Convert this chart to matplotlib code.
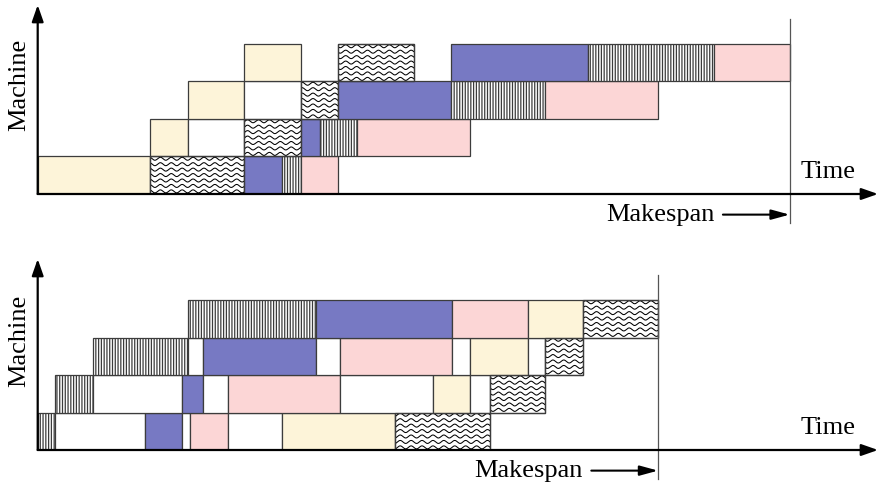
import numpy as np
import matplotlib
matplotlib.use("Agg")
import matplotlib.pyplot as plt

plt.rcParams['font.family'] = ['Liberation Serif', 'DejaVu Serif']
plt.rcParams['hatch.linewidth'] = 0.9

# ------------------------
# Data (time units, machine rows)
# ------------------------
# Top schedule
top_row   = [0, 0, 0, 0, 0,
             1, 1, 1, 1, 1, 1,
             2, 2, 2, 2, 2, 2,
             3, 3, 3, 3, 3]
top_start = [0, 6, 11, 13, 14,
             6, 8, 11, 14, 15, 17,
             8, 11, 14, 16, 22, 27,
             11, 16, 22, 29.25, 36]
top_end   = [6, 11, 13, 14, 16,
             8, 11, 14, 15, 17, 23,
             11, 14, 16, 22, 27, 33,
             14, 20, 29.25, 36, 40]
top_kind  = ['yellow', 'wave', 'blue', 'vline', 'pink',
             'yellow', 'idle', 'wave', 'blue', 'vline', 'pink',
             'yellow', 'idle', 'wave', 'blue', 'vline', 'pink',
             'yellow', 'wave', 'blue', 'vline', 'pink']
top_makespan = 40

# Bottom schedule
bot_row   = [0, 0, 0, 0, 0, 0, 0, 0,
             1, 1, 1, 1, 1, 1, 1, 1, 1,
             2, 2, 2, 2, 2, 2, 2, 2, 2,
             3, 3, 3, 3, 3]
bot_start = [0, 0.9, 5.7, 7.7, 8.1, 10.1, 13, 19,
             0.9, 2.95, 7.7, 8.8, 10.1, 16.1, 21.05, 23, 24.05,
             2.95, 8, 8.8, 14.8, 16.1, 22.05, 23, 26.1, 27,
             8, 14.8, 22.05, 26.1, 29]
bot_end   = [0.9, 5.7, 7.7, 8.1, 10.1, 13, 19, 24.05,
             2.95, 7.7, 8.8, 10.1, 16.1, 21.05, 23, 24.05, 27,
             8, 8.8, 14.8, 16.1, 22.05, 23, 26.1, 27, 29,
             14.8, 22.05, 26.1, 29, 33]
bot_kind  = ['vline', 'idle', 'blue', 'idle', 'pink', 'idle', 'yellow', 'wave',
             'vline', 'idle', 'blue', 'idle', 'pink', 'idle', 'yellow', 'idle', 'wave',
             'vline', 'idle', 'blue', 'idle', 'pink', 'idle', 'yellow', 'idle', 'wave',
             'vline', 'blue', 'pink', 'yellow', 'wave']
bot_makespan = 33

COLORS = {'yellow': '#FDF4D9', 'pink': '#FCD6D6', 'blue': '#7779C3',
          'vline': 'white', 'wave': 'white', 'idle': 'white'}
EDGE = '#3c3c3c'

X_MAX = 44.7


def draw_waves(ax, patch, x0, x1, y0):
    # wavy horizontal lines clipped to the box
    xs = np.linspace(x0, x1, 400)
    for k in range(7):
        ys = y0 + 0.07 + k * 0.145 + 0.04 * np.sin(2 * np.pi * xs / 0.58)
        ln, = ax.plot(xs, ys, color='black', lw=0.75, zorder=3,
                      solid_joinstyle='round', antialiased=True)
        ln.set_clip_path(patch)


def draw_panel(ax, rows, starts, ends, kinds, makespan, y_max):
    for r, s, e, k in zip(rows, starts, ends, kinds):
        bars = ax.barh(r + 0.5, e - s, left=s, height=1, color=COLORS[k],
                       edgecolor=EDGE, linewidth=0.9,
                       hatch='||||||' if k == 'vline' else None, zorder=2)
        if k == 'wave':
            draw_waves(ax, bars[0], s, e, r)
            # redraw border on top
            ax.barh(r + 0.5, e - s, left=s, height=1, fill=False,
                    edgecolor=EDGE, linewidth=0.9, zorder=4)

    ax.set_xlim(0, X_MAX)
    ax.set_ylim(0, y_max)
    ax.axis('off')

    # axes arrows
    ax.annotate('', xy=(1, 0), xytext=(0, 0), xycoords='axes fraction',
                arrowprops=dict(arrowstyle='-|>,head_length=1.0,head_width=0.35',
                                lw=1.6, color='black', shrinkA=0, shrinkB=0), zorder=6)
    ax.annotate('', xy=(0, 1), xytext=(0, 0), xycoords='axes fraction',
                arrowprops=dict(arrowstyle='-|>,head_length=1.0,head_width=0.35',
                                lw=1.6, color='black', shrinkA=0, shrinkB=0), zorder=6)

    # makespan marker
    ax.plot([makespan, makespan], [-0.78, 4.67], color='#555555', lw=0.9,
            clip_on=False, zorder=5)
    ax.annotate('', xy=(makespan, -0.55), xytext=(makespan - 3.55, -0.55),
                arrowprops=dict(arrowstyle='-|>,head_length=1.1,head_width=0.3',
                                lw=1.5, color='black', shrinkA=0, shrinkB=0),
                annotation_clip=False)
    ax.text(makespan - 4.0, -0.55, 'Makespan', ha='right', va='center',
            fontsize=19, clip_on=False)
    ax.text(40.6, 0.6, 'Time', ha='left', va='center', fontsize=19)


fig = plt.figure(figsize=(8.8, 4.9), dpi=100)

ax_top = fig.add_axes([37.7 / 880, 296 / 490, 840.3 / 880, 189 / 490])
draw_panel(ax_top, top_row, top_start, top_end, top_kind, top_makespan, 189 / 37.5)

ax_bot = fig.add_axes([37.7 / 880, 40 / 490, 840.3 / 880, 191 / 490])
draw_panel(ax_bot, bot_row, bot_start, bot_end, bot_kind, bot_makespan, 191 / 37.5)

fig.text(19 / 880, 1 - 85 / 490, 'Machine', rotation=90, ha='center', va='center', fontsize=19)
fig.text(19 / 880, 1 - 341 / 490, 'Machine', rotation=90, ha='center', va='center', fontsize=19)

fig.savefig('out.png', dpi=100)
